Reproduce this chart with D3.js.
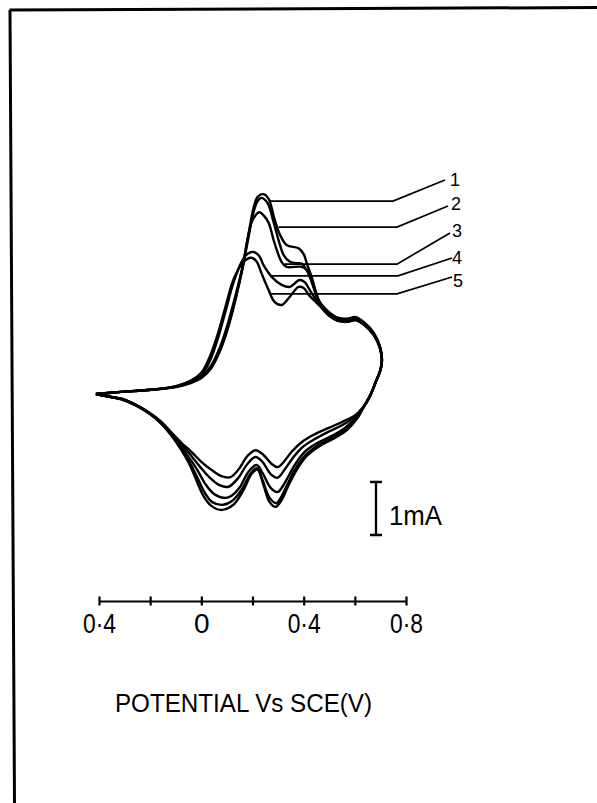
<!DOCTYPE html>
<html>
<head>
<meta charset="utf-8">
<script src="https://cdn.jsdelivr.net/npm/d3@7"></script>
<style>
body{margin:0;background:#fff;}
svg text{font-family:"Liberation Sans",Arial,sans-serif;fill:#000;}
</style>
</head>
<body>
<div id="chart"></div>
<script>
const w = 597;
const h = 803;

// Cyclic voltammograms, 5 successive cycles: [potential V vs SCE, current mA]
// anodic = forward sweep to the vertex, cathodic = return sweep
const anodic1 = [[-0.412,0.00],[-0.314,0.04],[-0.196,0.08],[-0.098,0.13],[-0.039,0.21],[0.000,0.30],[0.039,0.49],[0.071,0.79],[0.102,1.21],[0.133,1.77],[0.161,2.38],[0.184,3.00],[0.204,3.51],[0.220,3.72],[0.243,3.77],[0.263,3.68],[0.286,3.30],[0.306,3.02],[0.333,2.81],[0.380,2.75],[0.400,2.64],[0.412,2.47],[0.431,2.21],[0.463,1.74],[0.498,1.55],[0.533,1.44],[0.569,1.42],[0.604,1.45],[0.639,1.34],[0.675,1.15],[0.698,0.90],[0.706,0.66]];
const cathodic1 = [[0.700,0.45],[0.682,0.23],[0.659,-0.04],[0.631,-0.28],[0.608,-0.47],[0.569,-0.68],[0.522,-0.83],[0.463,-0.98],[0.412,-1.17],[0.373,-1.43],[0.341,-1.72],[0.314,-2.00],[0.290,-2.13],[0.267,-2.04],[0.243,-1.72],[0.220,-1.42],[0.196,-1.51],[0.165,-1.81],[0.125,-2.09],[0.078,-2.19],[0.039,-2.11],[0.008,-1.92],[-0.020,-1.62],[-0.047,-1.32],[-0.078,-1.06],[-0.118,-0.78],[-0.157,-0.56],[-0.204,-0.37],[-0.255,-0.22],[-0.314,-0.10],[-0.373,-0.04],[-0.412,0.00]];

const anodic2 = [[-0.412,0.00],[-0.314,0.04],[-0.196,0.08],[-0.098,0.14],[-0.039,0.22],[0.000,0.31],[0.039,0.50],[0.071,0.81],[0.102,1.23],[0.133,1.79],[0.161,2.37],[0.184,2.95],[0.204,3.43],[0.220,3.64],[0.235,3.70],[0.259,3.60],[0.282,3.25],[0.302,2.90],[0.322,2.62],[0.345,2.50],[0.370,2.47],[0.392,2.46],[0.416,2.30],[0.435,2.06],[0.463,1.72],[0.498,1.53],[0.533,1.42],[0.569,1.40],[0.604,1.43],[0.639,1.32],[0.675,1.13],[0.698,0.89],[0.706,0.65]];
const cathodic2 = [[0.700,0.45],[0.682,0.23],[0.659,-0.04],[0.631,-0.27],[0.608,-0.46],[0.565,-0.66],[0.518,-0.81],[0.459,-0.96],[0.408,-1.15],[0.369,-1.40],[0.337,-1.70],[0.310,-1.96],[0.294,-2.06],[0.267,-1.96],[0.239,-1.62],[0.216,-1.40],[0.192,-1.51],[0.157,-1.81],[0.120,-2.02],[0.086,-2.09],[0.043,-2.04],[0.012,-1.85],[-0.016,-1.57],[-0.047,-1.28],[-0.078,-1.04],[-0.118,-0.77],[-0.157,-0.55],[-0.204,-0.36],[-0.255,-0.21],[-0.314,-0.09],[-0.373,-0.04],[-0.412,0.00]];

const anodic3 = [[-0.412,0.00],[-0.314,0.04],[-0.196,0.08],[-0.098,0.14],[-0.039,0.23],[0.000,0.33],[0.039,0.54],[0.071,0.86],[0.102,1.30],[0.133,1.85],[0.161,2.40],[0.180,2.91],[0.200,3.28],[0.227,3.43],[0.245,3.36],[0.263,3.23],[0.286,2.85],[0.314,2.49],[0.333,2.40],[0.392,2.40],[0.412,2.34],[0.431,2.15],[0.463,1.70],[0.498,1.51],[0.533,1.40],[0.569,1.38],[0.604,1.41],[0.639,1.31],[0.675,1.12],[0.698,0.88],[0.706,0.64]];
const cathodic3 = [[0.700,0.45],[0.682,0.23],[0.659,-0.04],[0.631,-0.27],[0.604,-0.45],[0.561,-0.64],[0.510,-0.79],[0.455,-0.92],[0.404,-1.09],[0.365,-1.34],[0.333,-1.62],[0.310,-1.80],[0.298,-1.85],[0.271,-1.77],[0.239,-1.49],[0.216,-1.34],[0.184,-1.47],[0.149,-1.77],[0.118,-1.92],[0.094,-1.96],[0.051,-1.89],[0.016,-1.70],[-0.016,-1.43],[-0.047,-1.21],[-0.078,-1.00],[-0.118,-0.75],[-0.157,-0.55],[-0.204,-0.36],[-0.255,-0.21],[-0.314,-0.09],[-0.373,-0.04],[-0.412,0.00]];

const anodic4 = [[-0.412,0.00],[-0.314,0.04],[-0.196,0.08],[-0.098,0.15],[-0.039,0.25],[0.000,0.36],[0.031,0.60],[0.063,1.02],[0.094,1.55],[0.125,2.09],[0.157,2.49],[0.180,2.64],[0.204,2.68],[0.227,2.60],[0.243,2.43],[0.275,2.21],[0.314,2.06],[0.345,2.02],[0.384,2.15],[0.404,2.11],[0.424,1.96],[0.463,1.68],[0.498,1.50],[0.533,1.39],[0.569,1.37],[0.604,1.40],[0.639,1.30],[0.675,1.11],[0.698,0.87],[0.706,0.63]];
const cathodic4 = [[0.700,0.45],[0.682,0.23],[0.659,-0.04],[0.631,-0.26],[0.600,-0.43],[0.553,-0.58],[0.502,-0.70],[0.443,-0.85],[0.396,-1.00],[0.357,-1.21],[0.325,-1.43],[0.298,-1.58],[0.271,-1.51],[0.239,-1.28],[0.212,-1.19],[0.180,-1.32],[0.145,-1.58],[0.106,-1.75],[0.071,-1.72],[0.031,-1.57],[-0.004,-1.38],[-0.039,-1.17],[-0.075,-0.96],[-0.118,-0.74],[-0.157,-0.54],[-0.204,-0.36],[-0.255,-0.21],[-0.314,-0.09],[-0.373,-0.04],[-0.412,0.00]];

const anodic5 = [[-0.412,0.00],[-0.314,0.04],[-0.196,0.08],[-0.098,0.15],[-0.039,0.26],[0.000,0.40],[0.031,0.68],[0.063,1.11],[0.094,1.64],[0.125,2.15],[0.157,2.45],[0.180,2.55],[0.196,2.57],[0.216,2.50],[0.235,2.28],[0.263,1.96],[0.286,1.74],[0.314,1.68],[0.345,1.83],[0.380,2.02],[0.400,2.00],[0.420,1.87],[0.463,1.66],[0.498,1.48],[0.533,1.38],[0.569,1.36],[0.604,1.39],[0.639,1.29],[0.675,1.10],[0.698,0.86],[0.706,0.62]];
const cathodic5 = [[0.700,0.45],[0.682,0.23],[0.659,-0.04],[0.631,-0.26],[0.596,-0.42],[0.549,-0.53],[0.498,-0.64],[0.439,-0.77],[0.392,-0.91],[0.353,-1.09],[0.322,-1.28],[0.298,-1.38],[0.275,-1.32],[0.243,-1.15],[0.212,-1.06],[0.180,-1.17],[0.149,-1.40],[0.114,-1.57],[0.078,-1.55],[0.039,-1.43],[0.000,-1.28],[-0.039,-1.09],[-0.078,-0.92],[-0.118,-0.72],[-0.157,-0.52],[-0.204,-0.35],[-0.255,-0.21],[-0.314,-0.09],[-0.373,-0.04],[-0.412,0.00]];

const cycleNames = ['1','2','3','4','5'];
// where each numbered leader touches its curve
const leaderE = [0.267, 0.302, 0.325, 0.275, 0.267];
const leaderI = [3.64, 3.15, 2.45, 2.23, 1.89];

const tickValues = [-0.4,-0.2,0,0.2,0.4,0.6,0.8];
const tickLabels = ['0·4','','0','','0·4','','0·8'];

//Scales
const xScale = d3.scaleLinear().domain([-0.4,0.8]).range([99,406]);
// 1 mA = 53 px
const yScale = d3.scaleLinear().domain([-3,4]).range([394+3*53, 394-4*53]);

const svg = d3.select('#chart')
.append('svg')
.attr('width',w)
.attr('height',h);

svg.append('rect').attr('width',w).attr('height',h).attr('fill','#fff');

//Frame (only top and left edges survive in the scan)
svg.append('path')
.attr('d','M9.5,10 L597,7.5 M10,10 L14.5,803')
.attr('fill','none')
.attr('stroke','#000')
.attr('stroke-width',3);

//Curves
const cycles = [
  anodic1.concat(cathodic1),
  anodic2.concat(cathodic2),
  anodic3.concat(cathodic3),
  anodic4.concat(cathodic4),
  anodic5.concat(cathodic5)
];

const line = d3.line()
.x(d => xScale(d[0]))
.y(d => yScale(d[1]))
.curve(d3.curveCatmullRom.alpha(0.5));

svg.append('g')
.selectAll('path')
.data(cycles)
.enter()
.append('path')
.attr('d', line)
.attr('fill','none')
.attr('stroke','#000')
.attr('stroke-width',2.4)
.attr('stroke-linejoin','round');

//Leaders with cycle numbers
const bendX = [393,397,397,398,397];
const endPt = [[445,180],[448,206],[450,233],[452,258],[452,277]];
const labelPt = [[450,186],[451,210],[452,237],[452,264],[453,287]];

const lead = svg.append('g');
cycleNames.forEach((name,i) => {
  const y0 = yScale(leaderI[i]);
  lead.append('path')
  .attr('d',`M${xScale(leaderE[i])},${y0} L${bendX[i]},${y0} L${endPt[i][0]},${endPt[i][1]}`)
  .attr('fill','none')
  .attr('stroke','#000')
  .attr('stroke-width',1.7);
  lead.append('text')
  .attr('x',labelPt[i][0])
  .attr('y',labelPt[i][1])
  .attr('font-size',18)
  .text(name);
});

//Scale bar 1 mA
const barX = 376;
const barBottom = yScale(-2.66);
const barTop = yScale(-1.66);
svg.append('path')
.attr('d',`M${barX},${barTop} V${barBottom} M${barX-6},${barTop} H${barX+6} M${barX-6},${barBottom} H${barX+6}`)
.attr('stroke','#000')
.attr('stroke-width',2.3)
.attr('fill','none');
svg.append('text')
.attr('x',389)
.attr('y',525)
.attr('font-size',27)
.attr('textLength',53)
.attr('lengthAdjust','spacingAndGlyphs')
.text('1mA');

//Potential axis
const xAxis = d3.axisBottom(xScale)
.tickValues(tickValues)
.tickSizeInner(9)
.tickSizeOuter(0)
.tickFormat((d,i) => tickLabels[i]);

const ax = svg.append('g')
.attr('transform','translate(0,601)')
.call(xAxis);
ax.select('.domain').attr('stroke','#000').attr('stroke-width',2.2);
ax.selectAll('.tick line').attr('y1',-4.5).attr('y2',4.5).attr('stroke','#000').attr('stroke-width',2.2);
ax.selectAll('.tick text')
.attr('y',32)
.attr('dy',0)
.attr('font-size',28)
.attr('font-family','"Liberation Sans",Arial,sans-serif')
.attr('fill','#000')
.each(function(d,i){
  if (tickLabels[i].length > 1) d3.select(this).attr('textLength',33).attr('lengthAdjust','spacingAndGlyphs');
});

//Axis title
svg.append('text')
.attr('x',115)
.attr('y',712)
.attr('font-size',26)
.attr('textLength',257)
.attr('lengthAdjust','spacingAndGlyphs')
.text('POTENTIAL Vs SCE(V)');
</script>
</body>
</html>
